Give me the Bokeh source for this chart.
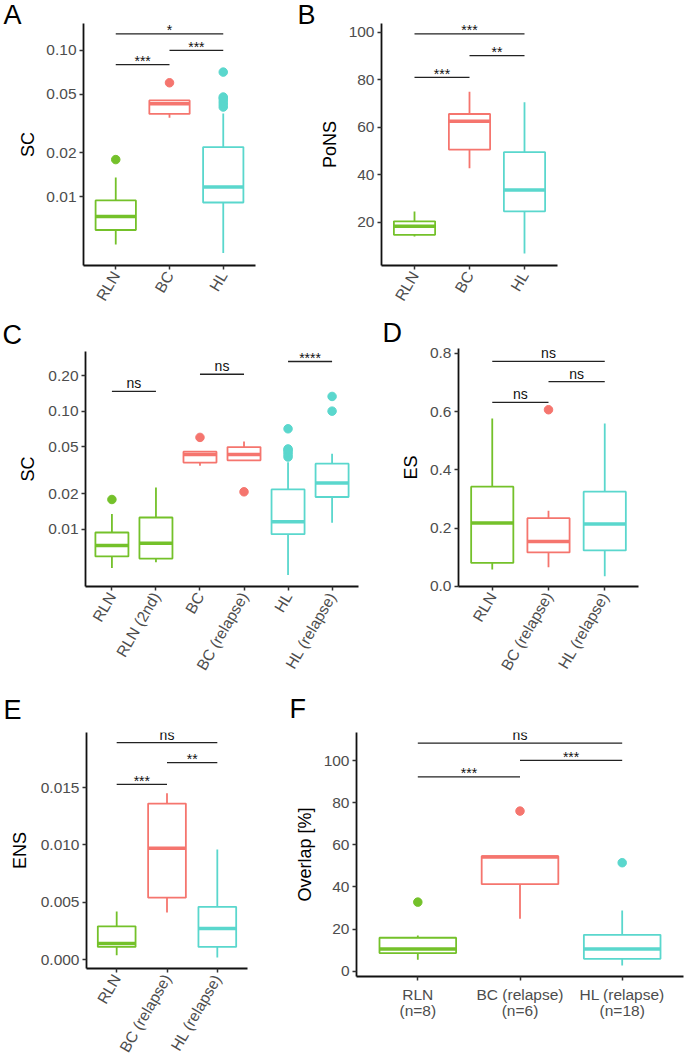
import math
from bokeh.plotting import figure
from bokeh.models import (FactorRange, Range1d, FixedTicker, PrintfTickFormatter,
                          ColumnDataSource, CategoricalAxis)
from bokeh.transform import dodge
from bokeh.layouts import row, column
from bokeh.embed import file_html
from bokeh.resources import INLINE
from bokeh.core.properties import value

GREEN = "#74C12A"
RED = "#F5756E"
CYAN = "#5AD7CD"
FONT = "Liberation Sans"

# ---------------- data ----------------
# Panel A : SC (log)
a_cats = ["RLN", "BC", "HL"]
a_cols = [GREEN, RED, CYAN]
a_lo = [0.0047, 0.0346, 0.0041]
a_q1 = [0.0059, 0.0368, 0.0091]
a_med = [0.0073, 0.0431, 0.0116]
a_q3 = [0.0094, 0.0455, 0.0218]
a_hi = [0.0135, 0.0455, 0.0370]
a_out_cat = ["RLN", "BC", "HL", "HL", "HL", "HL", "HL", "HL"]
a_out_val = [0.0179, 0.0601, 0.041, 0.043, 0.045, 0.047, 0.048, 0.0711]
a_ticks = [0.01, 0.02, 0.05, 0.10]
a_sig = [("RLN", "BC", 0.080, "***"), ("BC", "HL", 0.100, "***"), ("RLN", "HL", 0.130, "*")]

# Panel B : PoNS
b_cats = ["RLN", "BC", "HL"]
b_cols = [GREEN, RED, CYAN]
b_lo = [14.0, 42.7, 6.9]
b_q1 = [14.7, 50.6, 24.6]
b_med = [18.3, 62.5, 33.6]
b_q3 = [20.4, 65.6, 49.5]
b_hi = [24.5, 75.0, 70.5]
b_out_cat = []
b_out_val = []
b_ticks = [20, 40, 60, 80, 100]
b_sig = [("RLN", "BC", 81.0, "***"), ("BC", "HL", 90.2, "**"), ("RLN", "HL", 99.3, "***")]

# Panel C : SC (log), incl. relapse
c_cats = ["RLN", "RLN (2nd)", "BC", "BC (relapse)", "HL", "HL (relapse)"]
c_cols = [GREEN, GREEN, RED, RED, CYAN, CYAN]
c_lo = [0.0047, 0.00527, 0.0346, 0.0384, 0.0041, 0.0114]
c_q1 = [0.0059, 0.00565, 0.0368, 0.0384, 0.0091, 0.0188]
c_med = [0.0073, 0.00762, 0.0431, 0.0431, 0.0116, 0.0247]
c_q3 = [0.0094, 0.0126, 0.0455, 0.0498, 0.0218, 0.0360]
c_hi = [0.0135, 0.0226, 0.0455, 0.0556, 0.0370, 0.0437]
c_out_cat = ["RLN", "BC", "BC (relapse)", "HL", "HL", "HL", "HL", "HL", "HL",
             "HL (relapse)", "HL (relapse)"]
c_out_val = [0.0179, 0.0601, 0.0208, 0.041, 0.043, 0.045, 0.047, 0.048, 0.0711,
             0.1003, 0.1336]
c_ticks = [0.01, 0.02, 0.05, 0.10, 0.20]
c_sig = [("RLN", "RLN (2nd)", 0.1475, "ns"), ("BC", "BC (relapse)", 0.206, "ns"),
         ("HL", "HL (relapse)", 0.264, "****")]

# Panel D : ES
d_cats = ["RLN", "BC (relapse)", "HL (relapse)"]
d_cols = [GREEN, RED, CYAN]
d_lo = [0.057, 0.065, 0.034]
d_q1 = [0.080, 0.116, 0.123]
d_med = [0.217, 0.154, 0.214]
d_q3 = [0.342, 0.234, 0.325]
d_hi = [0.576, 0.259, 0.559]
d_out_cat = ["BC (relapse)"]
d_out_val = [0.6065]
d_ticks = [0.0, 0.2, 0.4, 0.6, 0.8]
d_sig = [("RLN", "BC (relapse)", 0.632, "ns"), ("BC (relapse)", "HL (relapse)", 0.703, "ns"),
         ("RLN", "HL (relapse)", 0.773, "ns")]

# Panel E : ENS
e_cats = ["RLN", "BC (relapse)", "HL (relapse)"]
e_cols = [GREEN, RED, CYAN]
e_lo = [0.00037, 0.0041, 0.00017]
e_q1 = [0.0011, 0.0054, 0.0011]
e_med = [0.0014, 0.0097, 0.0027]
e_q3 = [0.0029, 0.0136, 0.0046]
e_hi = [0.0042, 0.0145, 0.0096]
e_out_cat = []
e_out_val = []
e_ticks = [0.000, 0.005, 0.010, 0.015]
e_sig = [("RLN", "BC (relapse)", 0.01527, "***"), ("BC (relapse)", "HL (relapse)", 0.01718, "**"),
         ("RLN", "HL (relapse)", 0.01892, "ns")]

# Panel F : Overlap [%]
f_cats = ["RLN", "BC (relapse)", "HL (relapse)"]
f_counts = ["(n=8)", "(n=6)", "(n=18)"]
f_cols = [GREEN, RED, CYAN]
f_lo = [5.4, 24.9, 2.7]
f_q1 = [8.6, 41.3, 5.9]
f_med = [10.6, 54.2, 10.5]
f_q3 = [15.9, 54.6, 17.3]
f_hi = [17.0, 54.6, 28.8]
f_out_cat = ["RLN", "BC (relapse)", "HL (relapse)"]
f_out_val = [32.8, 76.0, 51.5]
f_ticks = [0, 20, 40, 60, 80, 100]
f_sig = [("RLN", "BC (relapse)", 92.2, "***"), ("BC (relapse)", "HL (relapse)", 100.1, "***"),
         ("RLN", "HL (relapse)", 108.3, "ns")]


def style_axis(a):
    a.axis_line_color = "#111111"
    a.axis_line_width = 1.8
    a.major_tick_line_color = "#333333"
    a.major_tick_line_width = 1.5
    a.major_tick_out = 4
    a.major_tick_in = 0
    a.minor_tick_line_color = None
    a.major_label_text_font = FONT
    a.major_label_text_font_size = "15.5px"
    a.major_label_text_color = "#4D4D4D"
    a.major_label_standoff = 3
    a.axis_label_text_font = FONT
    a.axis_label_text_font_size = "18px"
    a.axis_label_text_font_style = "normal"
    a.axis_label_text_color = "black"


def panel(letter, cats, cols, lo, q1, med, q3, hi, out_cat, out_val, ticks, fmt,
          ylab, sig, yr, log, geom, letter_dx, letter_standoff, counts=None,
          title_standoff=8):
    w, h, bl, br, bt, bb = geom
    p = figure(width=w, height=h,
               x_range=FactorRange(factors=cats, range_padding=0.1,
                                   range_padding_units="absolute"),
               y_range=Range1d(*yr),
               y_axis_type="log" if log else "linear",
               output_backend="svg", toolbar_location=None,
               min_border_left=bl, min_border_right=br,
               min_border_top=bt, min_border_bottom=bb,
               title=letter)
    p.frame_align = False
    p.outline_line_color = None
    p.xgrid.grid_line_color = None
    p.ygrid.grid_line_color = None
    p.background_fill_color = "white"
    p.title.text_font = FONT
    p.title.text_font_size = "27px"
    p.title.text_font_style = "normal"
    p.title.text_color = "black"
    p.title.align = "left"
    p.title.offset = letter_dx
    p.title.standoff = letter_standoff

    src = ColumnDataSource(dict(cat=cats, lo=lo, q1=q1, med=med, q3=q3, hi=hi, col=cols))
    p.segment(x0="cat", x1="cat", y0="q3", y1="hi", line_color="col", line_width=1.8, source=src)
    p.segment(x0="cat", x1="cat", y0="q1", y1="lo", line_color="col", line_width=1.8, source=src)
    p.vbar(x="cat", top="q3", bottom="q1", width=0.75, fill_color="white",
           line_color="col", line_width=1.8, source=src)
    p.segment(x0=dodge("cat", -0.375, range=p.x_range), x1=dodge("cat", 0.375, range=p.x_range),
              y0="med", y1="med", line_color="col", line_width=3.5, source=src)

    if out_cat:
        cmap = dict(zip(cats, cols))
        osrc = ColumnDataSource(dict(cat=out_cat, val=out_val,
                                     col=[cmap[c] for c in out_cat]))
        p.scatter(x="cat", y="val", size=8.5, fill_color="col", line_color="col",
                  source=osrc)

    for c1, c2, yv, txt in sig:
        i1, i2 = cats.index(c1), cats.index(c2)
        p.segment(x0=[c1], x1=[c2], y0=[yv], y1=[yv], line_color="#222222", line_width=1.3)
        ssrc = ColumnDataSource(dict(c=[c1], y=[yv], t=[txt]))
        p.text(x=dodge("c", (i2 - i1) / 2.0, range=p.x_range), y="y", text="t", source=ssrc,
               text_font=value(FONT), text_font_size="14px", text_color="#111111",
               text_align="center", text_baseline="bottom",
               y_offset=4.5 if txt.startswith("*") else 0)

    ax = p.yaxis[0]
    ax.ticker = FixedTicker(ticks=ticks)
    ax.formatter = PrintfTickFormatter(format=fmt)
    ax.axis_label = ylab
    style_axis(ax)
    style_axis(p.xaxis[0])
    ax.axis_label_standoff = title_standoff
    if counts is None:
        p.xaxis.major_label_orientation = math.pi / 3
    else:
        p.xaxis[0].major_label_standoff = 5
        p.extra_x_ranges = {"n": FactorRange(factors=counts, range_padding=0.1,
                                             range_padding_units="absolute")}
        ax2 = CategoricalAxis(x_range_name="n")
        style_axis(ax2)
        ax2.axis_line_color = None
        ax2.major_tick_line_color = None
        ax2.major_tick_out = 0
        ax2.major_label_standoff = -4
        p.add_layout(ax2, "below")
    return p


pA = panel("A", a_cats, a_cols, a_lo, a_q1, a_med, a_q3, a_hi, a_out_cat, a_out_val,
           a_ticks, "%.2f", "SC", a_sig, (0.00337, 0.153), True,
           (290, 315, 83, 35, 23, 50), -80, -12, title_standoff=5)
pB = panel("B", b_cats, b_cols, b_lo, b_q1, b_med, b_q3, b_hi, b_out_cat, b_out_val,
           b_ticks, "%d", "PoNS", b_sig, (1.8, 103.7), False,
           (395, 315, 91, 128, 23, 50), -84, -12, title_standoff=6)
pC = panel("C", c_cats, c_cols, c_lo, c_q1, c_med, c_q3, c_hi, c_out_cat, c_out_val,
           c_ticks, "%.2f", "SC", c_sig, (0.00328, 0.321), True,
           (370, 365, 85, 12, 36, 93), -83, 4, title_standoff=7)
pD = panel("D", d_cats, d_cols, d_lo, d_q1, d_med, d_q3, d_hi, d_out_cat, d_out_val,
           d_ticks, "%.1f", "ES", d_sig, (-0.001, 0.817), False,
           (315, 365, 88, 47, 33, 93), -76, 1, title_standoff=6)
pE = panel("E", e_cats, e_cols, e_lo, e_q1, e_med, e_q3, e_hi, e_out_cat, e_out_val,
           e_ticks, "%.3f", "ENS", e_sig, (-0.00078, 0.0198), False,
           (290, 383, 86, 43, 52, 95), -83, 16, title_standoff=8)
pF = panel("F", f_cats, f_cols, f_lo, f_q1, f_med, f_q3, f_hi, f_out_cat, f_out_val,
           f_ticks, "%d", "Overlap [%]", f_sig, (-2.5, 113.3), False,
           (395, 383, 66, 2, 52, 87), -67, 17, counts=f_counts, title_standoff=6)

layout = column(row(pA, pB), row(pC, pD), row(pE, pF))

open("out.html", "w").write(file_html(layout, INLINE))
